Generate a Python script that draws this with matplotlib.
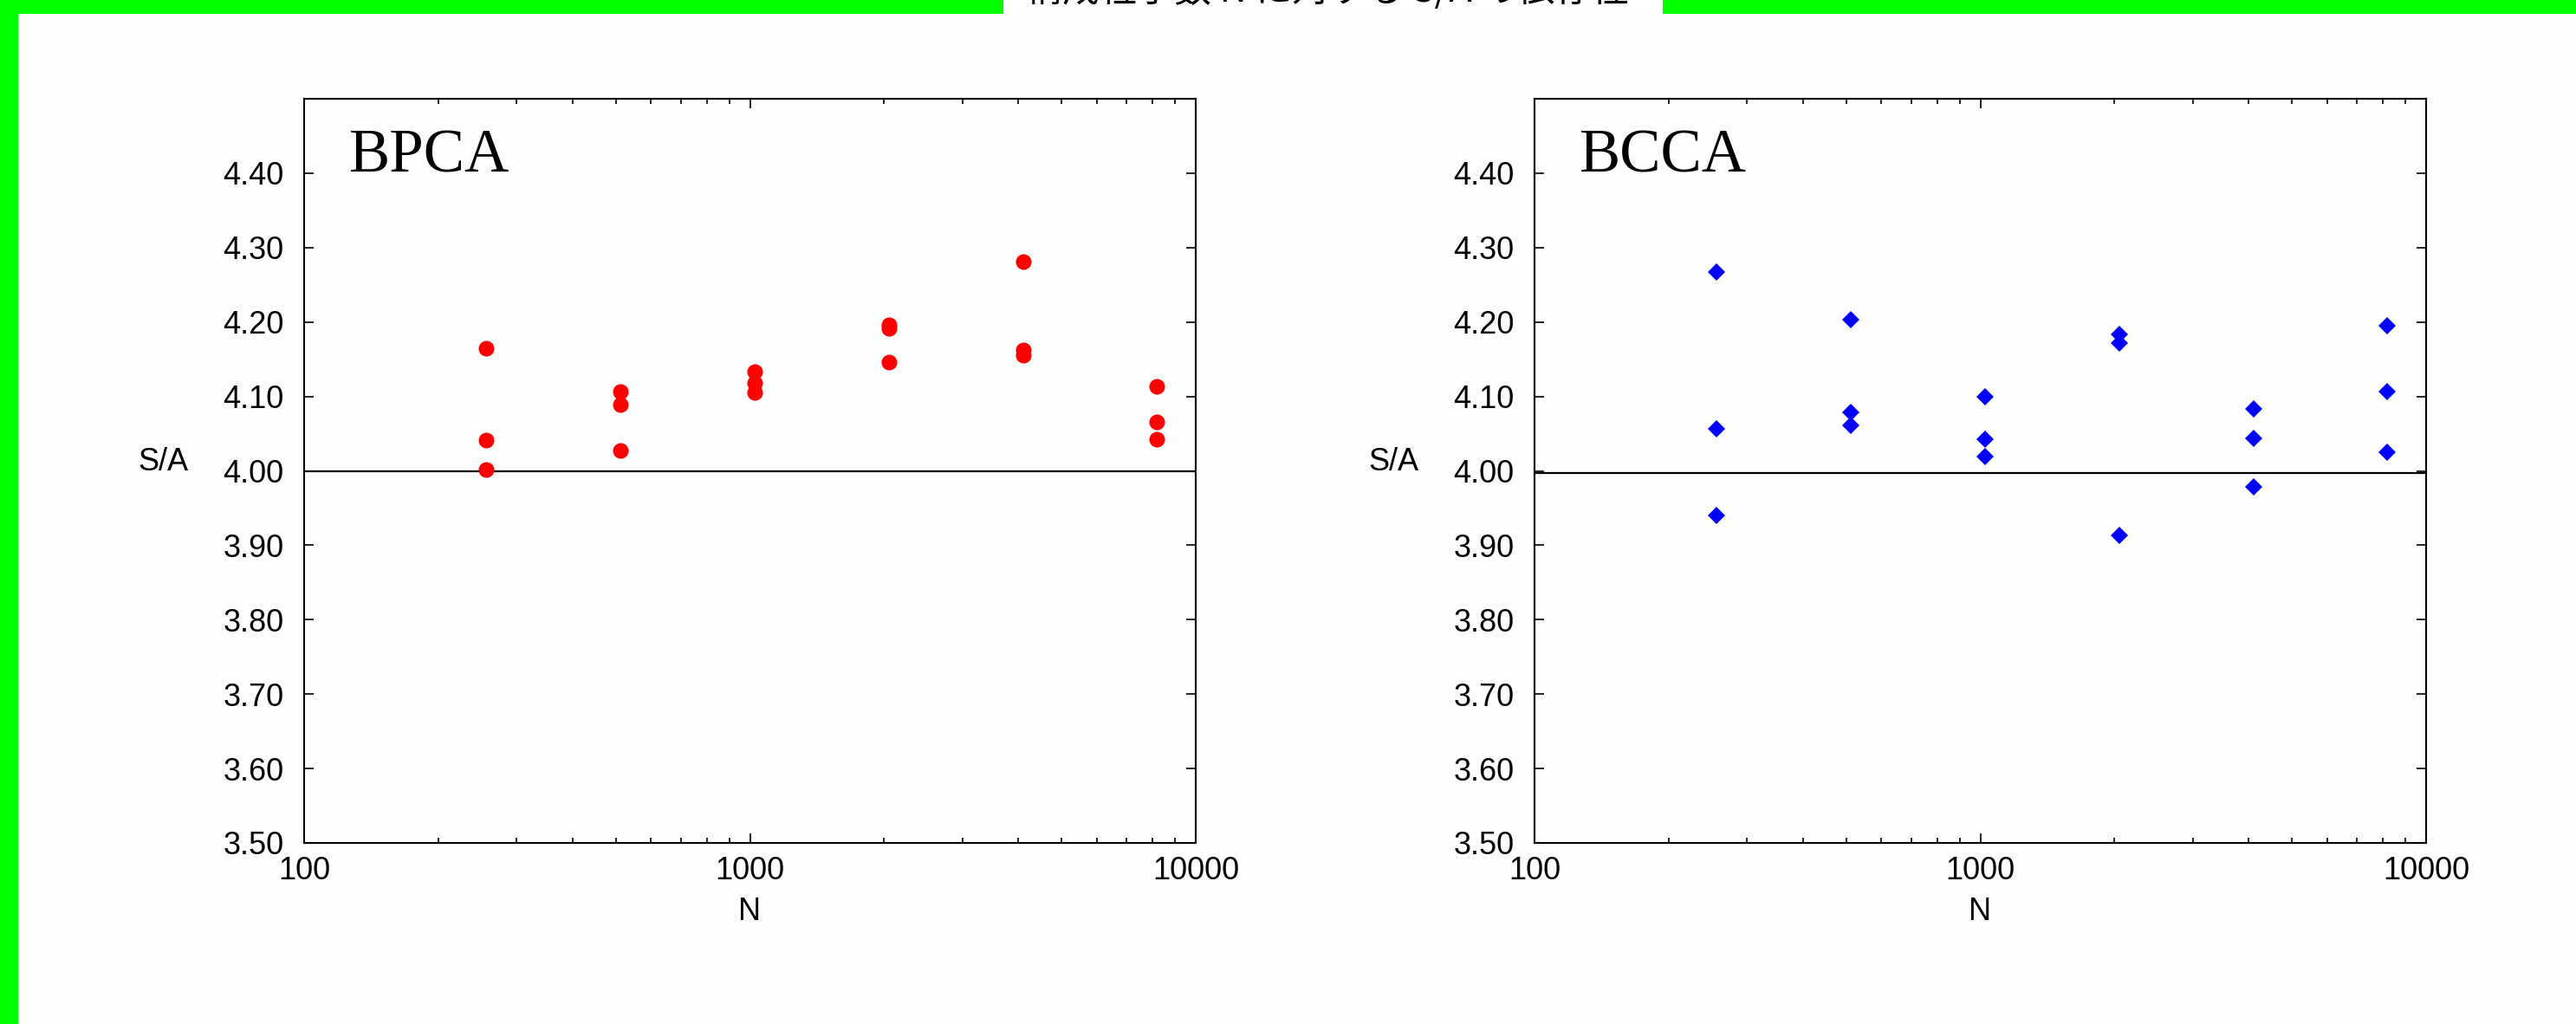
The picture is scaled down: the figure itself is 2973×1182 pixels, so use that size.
import numpy as np
import matplotlib
matplotlib.use('Agg')
import matplotlib.pyplot as plt
import matplotlib.ticker as mticker
from matplotlib.patches import Rectangle

# Number of particles and the S/A values (3 runs per N)
n_part = [256, 512, 1024, 2048, 4096, 8192]
bpca_sa = [[4.165, 4.041, 4.002],
           [4.106, 4.089, 4.027],
           [4.133, 4.118, 4.105],
           [4.196, 4.192, 4.146],
           [4.281, 4.162, 4.155],
           [4.113, 4.066, 4.043]]
bcca_sa = [[4.267, 4.057, 3.940],
           [4.203, 4.078, 4.061],
           [4.100, 4.042, 4.019],
           [4.183, 4.172, 3.913],
           [4.083, 4.044, 3.979],
           [4.195, 4.107, 4.025]]
panel_names = ['BPCA', 'BCCA']
ref_level = [4.0, 3.997]
yticks = [3.50, 3.60, 3.70, 3.80, 3.90, 4.00, 4.10, 4.20, 4.30, 4.40]
xticks = [100, 1000, 10000]
title = '構成粒子数 N に対する S/A の依存性'

W, H = 2973, 1182
fig = plt.figure(figsize=(W / 100, H / 100), dpi=100)
fig.patch.set_facecolor('#fdfdfd')

# green slide decoration: top band with white title box, left bar
fig.add_artist(Rectangle((0, 1 - 16 / H), 1, 16 / H, transform=fig.transFigure,
                         color='#00ff00', lw=0, zorder=0))
fig.add_artist(Rectangle((0, 0), 21 / W, 1, transform=fig.transFigure,
                         color='#00ff00', lw=0, zorder=0))
fig.add_artist(Rectangle((1158 / W, 1 - 16 / H), (1919 - 1158) / W, 16 / H,
                         transform=fig.transFigure, color='white', lw=0, zorder=1))
# title sits mostly above the top edge, only the bottom of the glyphs shows
fig.text(1532 / W, 1 - 2 / H, title, ha='center', va='baseline',
         fontsize=31, family=['Noto Sans CJK JP', 'DejaVu Sans'], zorder=2)

sans = 'Liberation Sans'
serif = 'Liberation Serif'

panels = [(351, bpca_sa, 'o', 'red', 13), (1771, bcca_sa, 'D', 'blue', 10)]
for i, (x0, vals, mk, col, ms) in enumerate(panels):
    ax = fig.add_axes([x0 / W, 1 - 973 / H, 1029 / W, (973 - 114) / H])
    ax.set_facecolor('#fdfdfd')
    ax.set_xscale('log')
    ax.set_xlim(100, 10000)
    ax.set_ylim(3.5, 4.5)

    ax.axhline(ref_level[i], color='black', lw=1.6, zorder=2)
    for n, v in zip(n_part, vals):
        ax.plot([n] * len(v), v, mk, color=col, ms=ms, mew=0, zorder=3)

    ax.set_yticks(yticks)
    ax.yaxis.set_major_formatter(mticker.FormatStrFormatter('%.2f'))
    ax.set_xticks(xticks)
    ax.xaxis.set_major_formatter(mticker.FuncFormatter(lambda v, p: '%d' % v))
    ax.xaxis.set_minor_locator(mticker.LogLocator(base=10, subs=np.arange(2, 10)))
    ax.xaxis.set_minor_formatter(mticker.NullFormatter())
    ax.tick_params(which='both', direction='in', top=True, right=True, width=1.2)
    ax.tick_params(which='major', length=8)
    ax.tick_params(which='minor', length=4.3)
    ax.tick_params(axis='y', pad=17, labelsize=26)
    ax.tick_params(axis='x', pad=11, labelsize=26)
    for lab in ax.get_xticklabels() + ax.get_yticklabels():
        lab.set_family(sans)
    for sp in ax.spines.values():
        sp.set_linewidth(1.5)

    ax.text(0.0506, 0.902, panel_names[i], transform=ax.transAxes,
            family=serif, fontsize=51, va='baseline', ha='left')
    ax.text(-0.158, 4.012, 'S/A', transform=ax.get_yaxis_transform(),
            family=sans, fontsize=26, ha='center', va='center')
    ax.text(0.5, -79 / 859, 'N', transform=ax.transAxes,
            family=sans, fontsize=26, ha='center', va='center')

plt.savefig('out.png', dpi=100, facecolor=fig.get_facecolor())
